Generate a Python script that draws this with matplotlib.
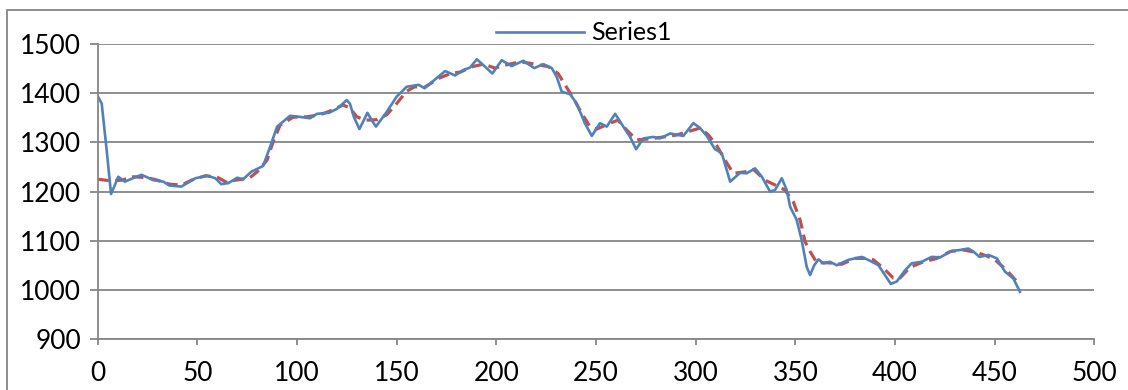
import matplotlib.pyplot as plt
from matplotlib.patches import Rectangle

# Series1 (blue, smoothed line)
s1_x = [0, 2, 4.5, 6.7, 8.5, 10.3, 13.7, 17, 22, 28, 33, 36, 42, 49, 55, 59, 62, 65.5,
        70, 73, 77, 83, 86.5, 90, 93, 96.5, 101, 106.5, 110, 116, 120, 125, 126.6, 128.5,
        131.3, 133.5, 135.3, 137.5, 139.6, 145, 150, 155, 161, 164, 169, 174.3, 179.3,
        183.4, 186.8, 190.2, 194.3, 198, 202.7, 207.7, 213.5, 219, 223.6, 227.8, 230.3,
        232.8, 237, 240.3, 244.4, 247.9, 252, 255.4, 259.6, 263.7, 267.1, 270.1, 273.8,
        278.8, 282.1, 287.2, 293.8, 298.8, 302, 305.6, 309.7, 313.1, 317.3, 322.3, 325.6,
        329.8, 333.2, 337.3, 339.8, 343.2, 345.7, 347.4, 350.7, 353.2, 355.7, 357.4, 359.5,
        361.6, 364.1, 367.4, 370.8, 376.6, 383.3, 387.5, 391.7, 395, 397.9, 400.9, 405.1,
        408.4, 413.4, 418.4, 422.6, 428.5, 432.6, 436.8, 439.3, 442.4, 446.9, 451.1, 455.2,
        459.4, 462.7]
s1_y = [1394, 1379, 1284, 1195, 1212, 1230, 1220, 1226, 1234, 1223, 1220, 1212, 1210, 1227,
        1232, 1227, 1215, 1217, 1228, 1225, 1240, 1252, 1291, 1332, 1342, 1354, 1352, 1349,
        1358, 1360, 1368, 1386, 1378, 1352, 1327, 1345, 1360, 1345, 1332, 1362, 1393, 1413,
        1417, 1410, 1427, 1445, 1436, 1447, 1452, 1469, 1454, 1440, 1467, 1455, 1466, 1451,
        1459, 1451, 1433, 1403, 1398, 1379, 1339, 1313, 1339, 1332, 1358, 1332, 1311, 1286,
        1308, 1311, 1308, 1318, 1313, 1339, 1330, 1313, 1286, 1278, 1220, 1238, 1237, 1247,
        1230, 1200, 1203, 1227, 1203, 1169, 1142, 1101, 1047, 1030, 1050, 1062, 1054, 1057,
        1050, 1061, 1067, 1059, 1050, 1030, 1012, 1017, 1040, 1054, 1057, 1067, 1066, 1079,
        1081, 1084, 1078, 1067, 1071, 1064, 1037, 1023, 996]

# trend line (red dashed)
tr_x = [0, 6, 12, 18, 25, 30, 36, 42, 47, 54, 60, 65, 69, 76, 80, 85, 88, 91.5, 98, 105,
        111.5, 118, 123, 126.5, 130, 134, 140, 145, 150, 155, 159, 164, 171, 177, 182, 188,
        193.5, 199.4, 204.4, 212, 219.4, 226, 231, 234, 238.6, 242.8, 247, 250.4, 257, 261,
        265.4, 270.4, 277, 284, 290.5, 296.3, 302.2, 306.4, 310.6, 314.7, 318.9, 324.8, 329,
        334.8, 341.5, 344.8, 349, 352.4, 354.9, 357.4, 360.8, 366.6, 373.3, 380, 386.7, 389.2,
        394.2, 399.2, 402.5, 407.6, 414.3, 421, 427.7, 434.4, 441, 446, 450.2, 456, 462.7]
tr_y = [1225, 1222, 1223, 1230, 1228, 1223, 1215, 1213, 1223, 1232, 1229, 1218, 1223, 1227,
        1240, 1264, 1301, 1335, 1351, 1352, 1356, 1366, 1376, 1370, 1352, 1345, 1346, 1356,
        1379, 1404, 1413, 1412, 1430, 1440, 1443, 1454, 1459, 1451, 1457, 1464, 1459, 1454,
        1440, 1420, 1390, 1359, 1332, 1327, 1339, 1345, 1325, 1305, 1307, 1311, 1315, 1322,
        1329, 1315, 1293, 1264, 1237, 1240, 1245, 1223, 1210, 1203, 1179, 1142, 1098, 1078,
        1055, 1055, 1052, 1064, 1064, 1061, 1044, 1024, 1024, 1046, 1057, 1064, 1078, 1081,
        1076, 1069, 1061, 1040, 1010]

x_ticks = [0, 50, 100, 150, 200, 250, 300, 350, 400, 450, 500]
y_ticks = [900, 1000, 1100, 1200, 1300, 1400, 1500]

plt.rcParams['font.family'] = ['Lato', 'DejaVu Sans']
grid_c = '#868686'
fs = 19

fig = plt.figure(figsize=(11.28, 3.9), dpi=100)
ax = fig.add_axes([97.7 / 1128, 1 - 339 / 390, (1094.3 - 97.7) / 1128, (339 - 44) / 390])

# chart border
fig.patches.append(Rectangle((7 / 1128, -0.1), 1.2, 1 - 10 / 390 + 0.1, transform=fig.transFigure,
                             fill=False, edgecolor=grid_c, lw=1.3))

ax.plot(tr_x, tr_y, color='#C0504D', lw=2.3, dashes=(3.5, 2))
ax.plot(s1_x, s1_y, color='#4F81BD', lw=1.9, solid_joinstyle='round', label='Series1')

ax.set_xlim(0, 500)
ax.set_ylim(900, 1500)
ax.set_xticks(x_ticks)
ax.set_yticks(y_ticks)
ax.grid(axis='y', color=grid_c, lw=1.3)
ax.set_axisbelow(True)
for s in ['top', 'right']:
    ax.spines[s].set_visible(False)
for s in ['left', 'bottom']:
    ax.spines[s].set_color(grid_c)
    ax.spines[s].set_linewidth(1.3)
ax.tick_params(axis='y', length=6, width=1.3, color=grid_c, pad=6, labelsize=fs)
ax.tick_params(axis='x', length=4, width=1.3, color=grid_c, pad=12, labelsize=fs)

fig.legend(loc='center', bbox_to_anchor=(584 / 1128, 1 - 33 / 390), frameon=False,
           fontsize=fs - 1, handlelength=3.5, handletextpad=0.3)

fig.savefig('out.png', dpi=100)
